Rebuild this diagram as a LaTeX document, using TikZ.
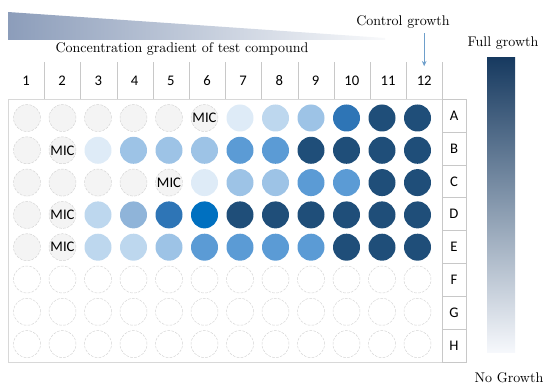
\documentclass[tikz,border=0pt]{standalone}
\usepackage{fontspec}
\setsansfont{Carlito}
\usetikzlibrary{arrows.meta}
\definecolor{wellgray}{HTML}{F4F4F4}
\definecolor{rimgray}{HTML}{D4D4D4}
\definecolor{linegray}{HTML}{C8C8C8}
\definecolor{blueA}{HTML}{DEEBF7}
\definecolor{blueB}{HTML}{BDD7EE}
\definecolor{blueC}{HTML}{9DC3E6}
\definecolor{blueD}{HTML}{5B9BD5}
\definecolor{blueE}{HTML}{2E75B6}
\definecolor{blueF}{HTML}{0070C0}
\definecolor{blueG}{HTML}{1F4E79}
\definecolor{blueH}{HTML}{8FB4D9}
\definecolor{wedgeblue}{HTML}{8C9DBA}
\definecolor{bartop}{HTML}{173A60}
\definecolor{barmid}{HTML}{55779A}
\definecolor{barbot}{HTML}{F6F8FC}
\definecolor{arrowblue}{HTML}{6E9FCB}

\begin{document}
\begin{tikzpicture}[x=0.75pt, y=-0.75pt,
    well/.style={circle, minimum size=20.25pt, inner sep=0pt},
    well e/.style={well, fill=wellgray, draw=rimgray, dash pattern=on 2pt off 1pt, line width=0.35pt},
    well m/.style={well e, label={[font=\sffamily\fontsize{11}{13}\selectfont]center:MIC}},
    well f/.style={well, fill=white, draw=rimgray, dash pattern=on 2pt off 1pt, line width=0.35pt},
    well 1/.style={well, fill=blueA}, well 2/.style={well, fill=blueB},
    well 3/.style={well, fill=blueC}, well 4/.style={well, fill=blueD},
    well 5/.style={well, fill=blueE}, well 6/.style={well, fill=blueF},
    well 7/.style={well, fill=blueG}, well 8/.style={well, fill=blueH},
    colcell/.style={minimum width=27.15pt, minimum height=27pt, inner sep=0pt, font=\sffamily\fontsize{11}{13}\selectfont},
    rowcell/.style={draw=linegray, minimum width=18pt, minimum height=24.7pt, inner sep=0pt, font=\sffamily\fontsize{11}{13}\selectfont},
    caption/.style={font=\fontsize{10.5}{12}\selectfont}]
  \useasboundingbox (0,0) rectangle (550,392);

  % gradient wedge and colour bar
  \shade[left color=wedgeblue, right color=white!94!wedgeblue] (8,12) -- (385,38) -- (385,40) -- (8,40) -- cycle;
  \shade[top color=bartop, middle color=barmid, bottom color=barbot] (487,58) rectangle (515,352);

  \node[caption] (gradient) at (182,49) {Concentration gradient of test compound};
  \node[caption] (control) at (403,22) {Control growth};
  \node[caption] (full) at (503,43) {Full growth};
  \node[caption] (none) at (509,378) {No Growth};

  % plate: header, body, row letters
  \foreach \n in {1,...,12}
    \node[colcell] (col\n) at ({26+36.2*(\n-1)},80.5) {\n};
  \foreach \n in {1,...,12}
    \draw[linegray] (col\n.north east) -- (col\n.south east);
  \draw[linegray] (8,99) -- (466,99);
  \draw[linegray!70] (8,99) rectangle (442,362);
  \foreach \r [count=\i from 0] in {A,B,C,D,E,F,G,H}
    \node[rowcell] (row\r) at (454,{115.5+32.9*\i}) {\r};

  \draw[arrowblue, line width=0.8pt, -{Stealth[length=4pt, width=3.5pt]}]
    (control.south -| col12.north) -- ([yshift=-3pt]col12.north);

  % wells
  \foreach \r/\cols [count=\i from 0] in {
      A/{e,e,e,e,e,m,1,2,3,5,7,7},
      B/{e,m,1,3,3,3,4,4,7,7,7,7},
      C/{e,e,e,e,m,1,3,3,4,4,7,7},
      D/{e,m,2,8,5,6,7,7,7,7,7,7},
      E/{e,m,2,2,3,4,4,4,4,7,7,7}}
    \foreach \c [count=\j] in \cols
      \node[well \c] (\r\j) at ({27+35.5*(\j-1)},{118+32.3*\i}) {};
  \foreach \r [count=\i from 5] in {F,G,H}
    \foreach \j in {1,...,12}
      \node[well f] (\r\j) at ({27+35.5*(\j-1)},{118+32.3*\i}) {};
\end{tikzpicture}
\end{document}
